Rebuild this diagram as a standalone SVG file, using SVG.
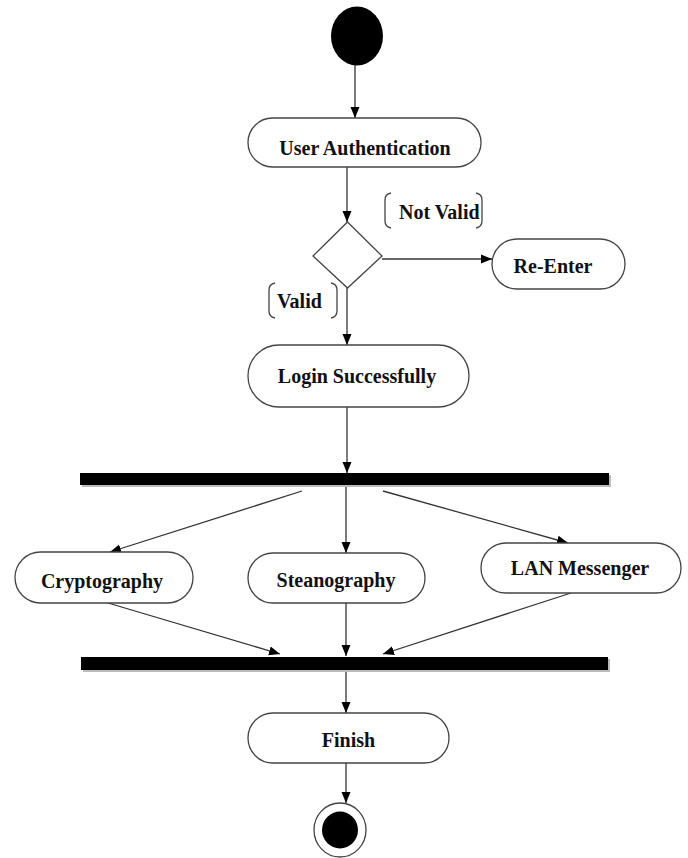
<svg xmlns="http://www.w3.org/2000/svg" width="688" height="858" viewBox="0 0 688 858">
<style>
.box{fill:#fff;stroke:#444;stroke-width:1.3}
.lbl{font-family:"Liberation Serif","Times New Roman",serif;font-weight:bold;font-size:20px;fill:#111}
.c{text-anchor:middle}
.edge{stroke:#333;stroke-width:1.3;fill:none;marker-end:url(#ah)}
.br{stroke:#444;stroke-width:1.3;fill:none}
.bar{fill:#000}
.shadow{fill:#bbb}
</style>
<defs>
<marker id="ah" markerUnits="userSpaceOnUse" markerWidth="12" markerHeight="12" viewBox="0 0 12 12" refX="11" refY="6" orient="auto">
<path d="M0,1.5 L11,6 L0,10.5 Z" fill="#000"/>
</marker>
</defs>
<rect width="688" height="858" fill="#fff"/>

<g id="connectors">
<line class="edge" x1="355" y1="65" x2="355" y2="118"/>
<line class="edge" x1="347" y1="167" x2="347" y2="222"/>
<line class="edge" x1="382" y1="259" x2="492" y2="259"/>
<line class="edge" x1="347" y1="288" x2="347" y2="345"/>
<line class="edge" x1="347" y1="407" x2="347" y2="473"/>
<line class="edge" x1="302" y1="491" x2="110" y2="552"/>
<line class="edge" x1="346" y1="485" x2="346" y2="553"/>
<line class="edge" x1="383" y1="491" x2="568" y2="543"/>
<line class="edge" x1="108" y1="603" x2="280" y2="654"/>
<line class="edge" x1="346" y1="603" x2="346" y2="656"/>
<line class="edge" x1="571" y1="593" x2="383" y2="654"/>
<line class="edge" x1="346" y1="670" x2="346" y2="713"/>
<line class="edge" x1="346" y1="763" x2="346" y2="803"/>
</g>

<g id="start">
<ellipse cx="357" cy="36" rx="26" ry="29.5" fill="#000"/>
</g>

<g id="userAuth">
<rect class="box" x="248" y="118" width="233" height="49" rx="24.5"/>
<text class="lbl c" x="365" y="155">User Authentication</text>
</g>

<g id="decision">
<polygon class="box" points="347.5,222 382,256 347.5,288 313,256"/>
</g>

<g id="notValidLabel">
<path class="br" d="M391,193 Q385,194 385,200 L385,221 Q385,227 391,228"/>
<path class="br" d="M476,193 Q482,194 482,200 L482,221 Q482,227 476,228"/>
<text class="lbl" x="399" y="219">Not Valid</text>
</g>

<g id="validLabel">
<path class="br" d="M275,283 Q269,284 269,290 L269,311 Q269,317 275,318"/>
<path class="br" d="M331,283 Q337,284 337,290 L337,311 Q337,317 331,318"/>
<text class="lbl" x="277" y="308">Valid</text>
</g>

<g id="reEnter">
<rect class="box" x="492" y="239" width="133" height="50" rx="25"/>
<text class="lbl c" x="553" y="273">Re-Enter</text>
</g>

<g id="login">
<rect class="box" x="248" y="345" width="221" height="62" rx="31"/>
<text class="lbl c" x="357" y="383">Login Successfully</text>
</g>

<g id="forkBar">
<rect class="shadow" x="82" y="475" width="529" height="12"/>
<rect class="bar" x="80" y="473" width="529" height="12"/>
</g>

<g id="cryptography">
<rect class="box" x="15" y="552" width="178" height="51" rx="25.5"/>
<text class="lbl c" x="102" y="588">Cryptography</text>
</g>

<g id="steanography">
<rect class="box" x="248" y="553" width="177" height="50" rx="25"/>
<text class="lbl c" x="336" y="587">Steanography</text>
</g>

<g id="lanMessenger">
<rect class="box" x="481" y="543" width="200" height="50" rx="25"/>
<text class="lbl c" x="580" y="575">LAN Messenger</text>
</g>

<g id="joinBar">
<rect class="shadow" x="83" y="659" width="527" height="13"/>
<rect class="bar" x="81" y="657" width="527" height="13"/>
</g>

<g id="finish">
<rect class="box" x="248" y="713" width="201" height="50" rx="25"/>
<text class="lbl c" x="348.5" y="747">Finish</text>
</g>

<g id="end">
<ellipse cx="340" cy="830" rx="26" ry="27" fill="#fff" stroke="#444" stroke-width="1.3"/>
<ellipse cx="340" cy="830" rx="18" ry="18.5" fill="#000"/>
</g>
</svg>
